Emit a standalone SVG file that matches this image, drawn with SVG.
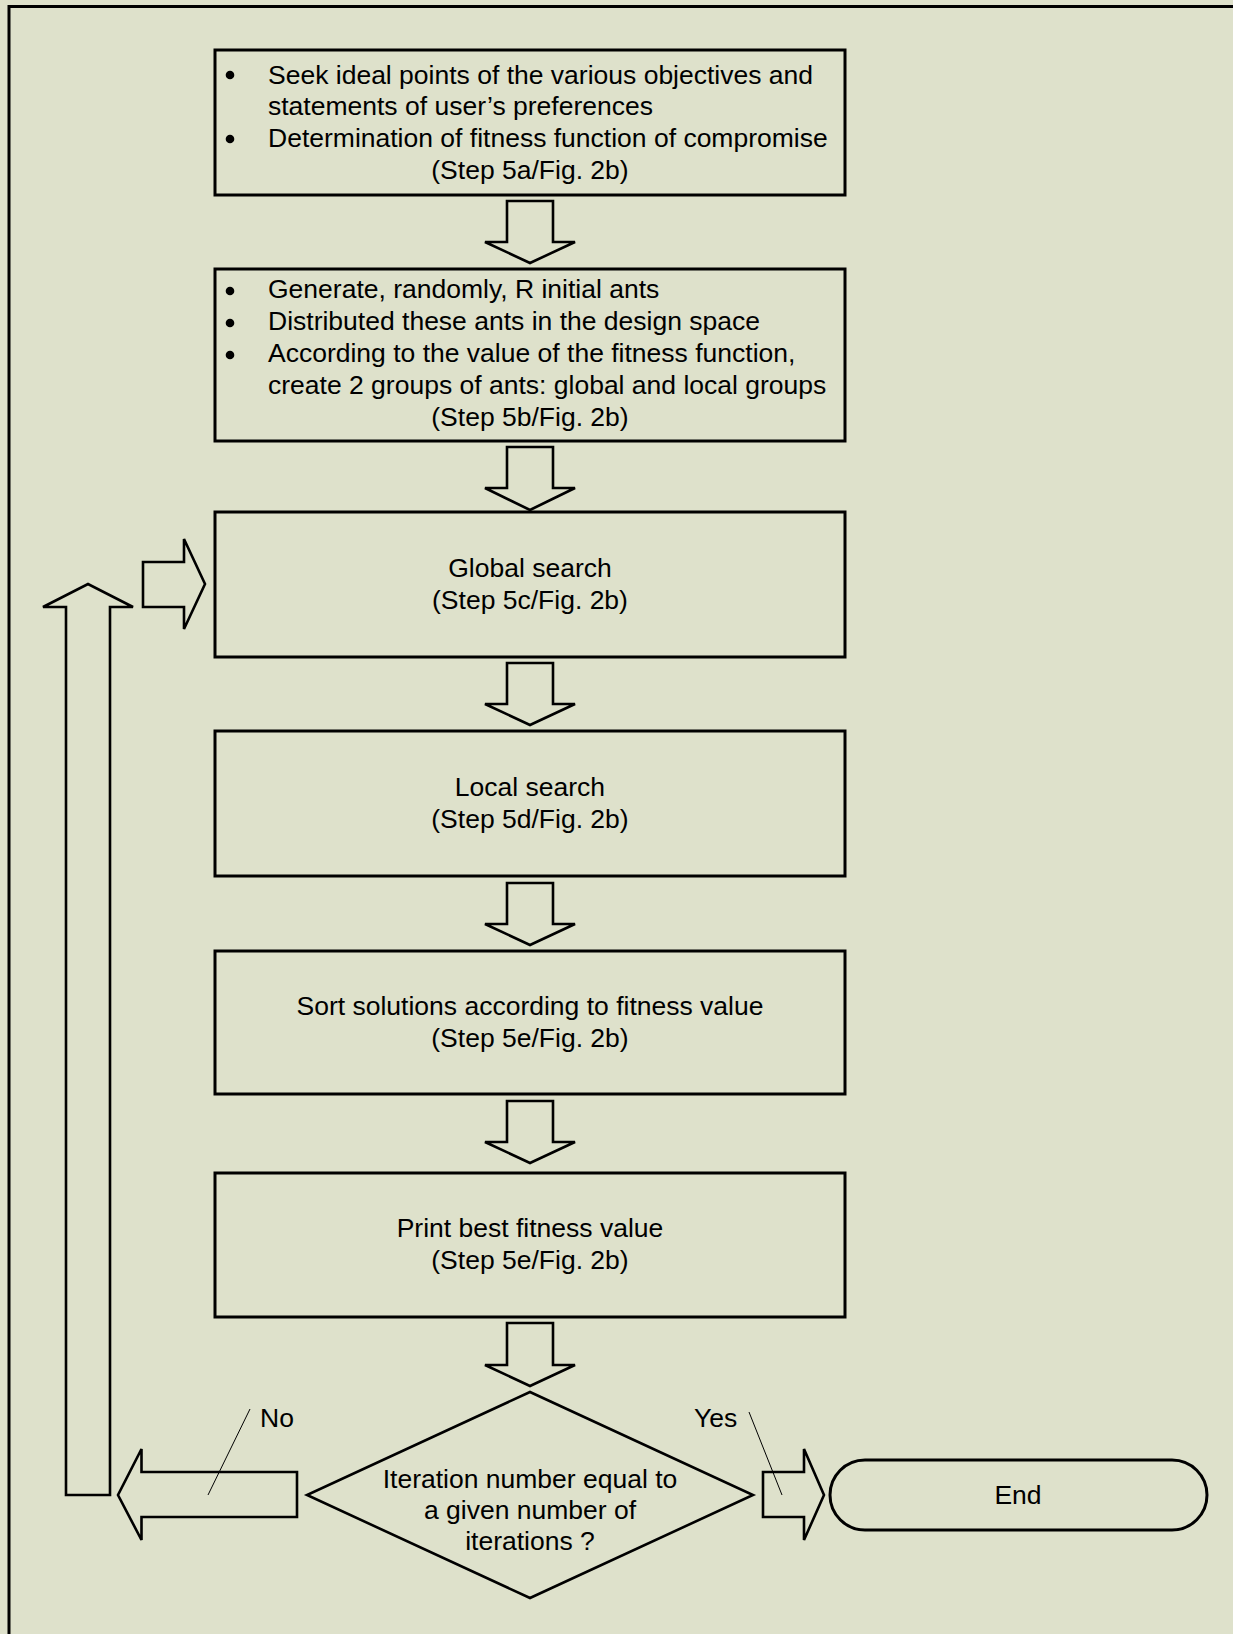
<svg xmlns="http://www.w3.org/2000/svg" width="1233" height="1634" viewBox="0 0 1233 1634">
<style>
.box{fill:#dee1cb;stroke:#000;stroke-width:3}
.arr{fill:#dee1cb;stroke:#000;stroke-width:2.6;stroke-linejoin:miter}
.t{font-family:"Liberation Sans",Arial,sans-serif;font-size:26.5px;fill:#000}
.c{text-anchor:middle}
.lead{stroke:#000;stroke-width:1;fill:none}
.b{fill:#000}
</style>
<rect x="0" y="0" width="1233" height="1634" fill="#dee1cb"/>
<path d="M9,1634 V6.5 H1233" fill="none" stroke="#000" stroke-width="3"/>

<g id="node-step5a">
<rect class="box" x="215" y="50" width="630" height="145"/>
<circle class="b" cx="230" cy="75" r="4.3"/>
<circle class="b" cx="230" cy="139" r="4.3"/>
<text class="t" x="268" y="84">Seek ideal points of the various objectives and</text>
<text class="t" x="268" y="115">statements of user’s preferences</text>
<text class="t" x="268" y="147">Determination of fitness function of compromise</text>
<text class="t c" x="530" y="179">(Step 5a/Fig. 2b)</text>
</g>

<g id="node-step5b">
<rect class="box" x="215" y="269" width="630" height="172"/>
<circle class="b" cx="230" cy="291" r="4.3"/>
<circle class="b" cx="230" cy="323" r="4.3"/>
<circle class="b" cx="230" cy="355" r="4.3"/>
<text class="t" x="268" y="298">Generate, randomly, R initial ants</text>
<text class="t" x="268" y="330">Distributed these ants in the design space</text>
<text class="t" x="268" y="362">According to the value of the fitness function,</text>
<text class="t" x="268" y="394">create 2 groups of ants: global and local groups</text>
<text class="t c" x="530" y="426">(Step 5b/Fig. 2b)</text>
</g>

<g id="node-step5c">
<rect class="box" x="215" y="512" width="630" height="145"/>
<text class="t c" x="530" y="577">Global search</text>
<text class="t c" x="530" y="609">(Step 5c/Fig. 2b)</text>
</g>

<g id="node-step5d">
<rect class="box" x="215" y="731" width="630" height="145"/>
<text class="t c" x="530" y="796">Local search</text>
<text class="t c" x="530" y="828">(Step 5d/Fig. 2b)</text>
</g>

<g id="node-step5e-sort">
<rect class="box" x="215" y="951" width="630" height="143"/>
<text class="t c" x="530" y="1015">Sort solutions according to fitness value</text>
<text class="t c" x="530" y="1047">(Step 5e/Fig. 2b)</text>
</g>

<g id="node-step5e-print">
<rect class="box" x="215" y="1173" width="630" height="144"/>
<text class="t c" x="530" y="1237">Print best fitness value</text>
<text class="t c" x="530" y="1269">(Step 5e/Fig. 2b)</text>
</g>

<g id="node-decision">
<polygon class="arr" points="530,1392 753,1495 530,1598 307,1495"/>
<text class="t c" x="530" y="1488">Iteration number equal to</text>
<text class="t c" x="530" y="1519">a given number of</text>
<text class="t c" x="530" y="1550">iterations ?</text>
</g>

<g id="node-end">
<rect class="box" x="830" y="1460" width="377" height="70" rx="35" ry="35"/>
<text class="t c" x="1018" y="1504">End</text>
</g>

<g id="connectors">
<polygon class="arr" points="507,201 553,201 553,242 575,242 530,263 485,242 507,242"/>
<polygon class="arr" points="507,447 553,447 553,488 575,488 530,510 485,488 507,488"/>
<polygon class="arr" points="507,663 553,663 553,704 575,704 530,725 485,704 507,704"/>
<polygon class="arr" points="507,883 553,883 553,924 575,924 530,945 485,924 507,924"/>
<polygon class="arr" points="507,1101 553,1101 553,1142 575,1142 530,1163 485,1142 507,1142"/>
<polygon class="arr" points="507,1323 553,1323 553,1365 575,1365 530,1386 485,1365 507,1365"/>
<polygon class="arr" points="297,1472 297,1517 141.5,1517 141.5,1540 118,1495 141.5,1449 141.5,1472"/>
<polygon class="arr" points="66,1495 66,607 43,607 88,584 133,607 110,607 110,1495"/>
<polygon class="arr" points="143,562 184,562 184,539 205,584 184,629 184,607 143,607"/>
<polygon class="arr" points="763,1472 804,1472 804,1449 824,1495 804,1540 804,1517 763,1517"/>
<line class="lead" x1="250" y1="1409" x2="208" y2="1495"/>
<line class="lead" x1="749" y1="1412" x2="782" y2="1495"/>
<text class="t" x="260" y="1427">No</text>
<text class="t" x="694" y="1427">Yes</text>
</g>
</svg>
